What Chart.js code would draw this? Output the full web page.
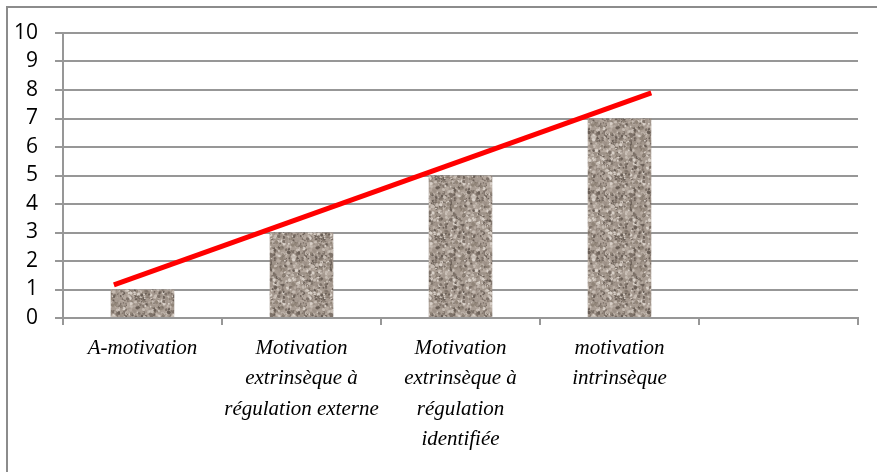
<!DOCTYPE html>
<html>
<head>
<meta charset="utf-8">
<script src="https://cdn.jsdelivr.net/npm/chart.js@4"></script>
<style>
  html, body { margin: 0; padding: 0; background: #fff; }
  #wrap { width: 877px; height: 472px; position: relative; }
</style>
</head>
<body>
<div id="wrap"><canvas id="chart"></canvas></div>
<script>
// categories (last one is empty on the original chart)
const categories = [
  ['A-motivation'],
  ['Motivation', 'extrinsèque à', 'régulation externe'],
  ['Motivation', 'extrinsèque à', 'régulation', 'identifiée'],
  ['motivation', 'intrinsèque'],
  ''
];
const scores = [1, 3, 5, 7, null];
// red trend line, x in category index units
const trendX = [-0.18, 3.2];
const trendY = [1.16, 7.9];
const yTicks = [0, 1, 2, 3, 4, 5, 6, 7, 8, 9, 10];

// granite-like texture for the bars
function makeGranite() {
  let c = document.createElement('canvas');
  c.width = 60; c.height = 60;
  let g = c.getContext('2d');
  g.fillStyle = '#a89c92';
  g.fillRect(0, 0, 60, 60);
  let seed = 12345;
  let rnd = () => { seed = (seed * 1103515245 + 12345) % 2147483648; return seed / 2147483648; };
  let cols = ['#7f736a', '#918579', '#c6bcb3', '#d9d1c9', '#9d9187', '#6a5f57', '#b6aaa0', '#a3978d'];
  for (let i = 0; i < 1100; i++) {
    g.fillStyle = cols[Math.floor(rnd() * cols.length)];
    let s = 0.6 + rnd() * 1.3;
    g.beginPath();
    g.ellipse(rnd() * 60, rnd() * 60, s, s * (0.6 + rnd() * 0.6), rnd() * 3, 0, Math.PI * 2);
    g.fill();
  }
  return document.getElementById('chart').getContext('2d').createPattern(c, 'repeat');
}

const frame = {
  id: 'frame',
  afterDraw(chart) {
    let ctx = chart.ctx;
    ctx.save();
    ctx.strokeStyle = '#8c8c8c';
    ctx.lineWidth = 2;
    ctx.beginPath();
    ctx.moveTo(7, 472);
    ctx.lineTo(7, 7);
    ctx.lineTo(877, 7);
    ctx.stroke();
    ctx.restore();
  }
};

const gridColor = '#979797';

let ctx = document.getElementById('chart').getContext('2d');
new Chart(ctx, {
  data: {
    labels: categories,
    datasets: [
      {
        type: 'bar',
        data: scores,
        backgroundColor: makeGranite(),
        borderWidth: 0,
        grouped: false,
        categoryPercentage: 1,
        barPercentage: 0.4,
        order: 2
      },
      {
        type: 'line',
        xAxisID: 'xLine',
        data: trendX.map((x, i) => ({ x: x, y: trendY[i] })),
        borderColor: '#ff0000',
        borderWidth: 5,
        borderCapStyle: 'butt',
        pointRadius: 0,
        fill: false,
        order: 1
      }
    ]
  },
  options: {
    responsive: true,
    maintainAspectRatio: false,
    animation: false,
    layout: { padding: { left: 0, top: 33, right: 19, bottom: 0 } },
    plugins: { legend: { display: false }, tooltip: { enabled: false } },
    scales: {
      x: {
        type: 'category',
        offset: true,
        afterFit: s => { s.height = 154; },
        grid: { offset: true, drawOnChartArea: false, tickLength: 7, color: gridColor, lineWidth: 2 },
        border: { color: gridColor, width: 2 },
        ticks: {
          maxRotation: 0,
          autoSkip: false,
          padding: 8,
          color: '#000',
          font: { family: '"Liberation Serif", "Times New Roman", serif', style: 'italic', size: 21, lineHeight: 1.45 }
        }
      },
      xLine: {
        type: 'linear',
        display: false,
        min: -0.5,
        max: categories.length - 0.5
      },
      y: {
        min: 0,
        max: 10,
        afterFit: s => { s.width = 63; },
        afterBuildTicks: s => { s.ticks = yTicks.map(v => ({ value: v })); },
        grid: { color: gridColor, lineWidth: 2, tickLength: 8 },
        border: { color: gridColor, width: 2 },
        ticks: {
          padding: 17,
          color: '#000',
          font: { family: '"Open Sans", sans-serif', size: 21 }
        }
      }
    }
  },
  plugins: [frame]
});
</script>
</body>
</html>
